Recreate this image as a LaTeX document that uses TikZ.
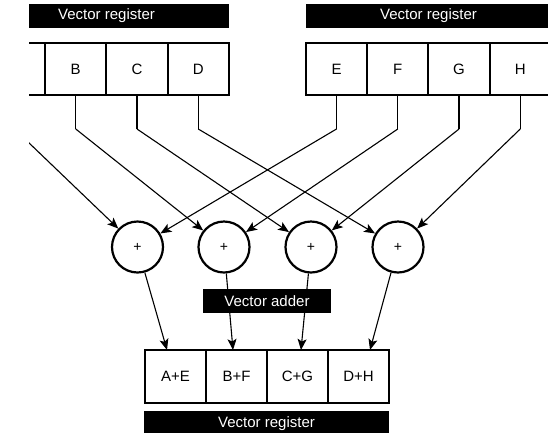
\documentclass[tikz,border=0pt]{standalone}
\usepackage{fontspec}
\setmainfont{Liberation Sans}
\usetikzlibrary{arrows.meta}
\begin{document}
\begin{tikzpicture}[x=1pt,y=-1pt,
  regbox/.style={draw, line width=2.1pt, minimum width=61.25pt, minimum height=52pt, inner sep=0pt, font=\fontsize{15}{15}\selectfont},
  outbox/.style={draw, line width=2.1pt, minimum width=61pt, minimum height=53pt, inner sep=0pt, font=\fontsize{15}{15}\selectfont},
  bar/.style={fill=black, text=white, minimum height=24pt, inner sep=0pt, font=\fontsize{15}{15}\selectfont},
  adderc/.style={draw, circle, line width=2.2pt, minimum size=51pt, inner sep=0pt, font=\fontsize{14}{14}\selectfont},
  conn/.style={line width=1.1pt},
  arr/.style={line width=1.1pt, -{Stealth[length=11pt,width=9pt,inset=2.5pt]}}
]
\useasboundingbox (0,0) rectangle (548,432);
\begin{scope}
\clip (29,0) rectangle (548,432);
% top bars
\node[bar, minimum width=245pt] (barL) at (106.5,16) {Vector register};
\node[bar, minimum width=245pt] (barR) at (428.5,16) {Vector register};
% input registers
\node[regbox] (A) at (14.5,69) {A};
\node[regbox] (B) at (75.75,69) {B};
\node[regbox] (C) at (137,69) {C};
\node[regbox] (D) at (198.25,69) {D};
\node[regbox] (E) at (336.5,69) {E};
\node[regbox] (F) at (397.75,69) {F};
\node[regbox] (G) at (459,69) {G};
\node[regbox] (H) at (520.25,69) {H};
% adders
\node[adderc] (p1) at (137.5,247) {+};
\node[adderc] (p2) at (224,247) {+};
\node[adderc] (p3) at (311,247) {+};
\node[adderc] (p4) at (398,247) {+};
% bends
\coordinate (bA) at (14.5,129);
\coordinate (bB) at (75.75,129);
\coordinate (bC) at (137,129);
\coordinate (bD) at (198.25,129);
\coordinate (bE) at (336.5,129);
\coordinate (bF) at (397.75,129);
\coordinate (bG) at (459,129);
\coordinate (bH) at (520.25,129);
\draw[conn] (A.south) -- (bA); \draw[arr] (bA) -- (p1);
\draw[conn] (B.south) -- (bB); \draw[arr] (bB) -- (p2);
\draw[conn] (C.south) -- (bC); \draw[arr] (bC) -- (p3);
\draw[conn] (D.south) -- (bD); \draw[arr] (bD) -- (p4);
\draw[conn] (E.south) -- (bE); \draw[arr] (bE) -- (p1);
\draw[conn] (F.south) -- (bF); \draw[arr] (bF) -- (p2);
\draw[conn] (G.south) -- (bG); \draw[arr] (bG) -- (p3);
\draw[conn] (H.south) -- (bH); \draw[arr] (bH) -- (p4);
% output register
\node[outbox] (O1) at (175.5,376.5) {A+E};
\node[outbox] (O2) at (236.5,376.5) {B+F};
\node[outbox] (O3) at (297.5,376.5) {C+G};
\node[outbox] (O4) at (358.5,376.5) {D+H};
\coordinate (t1) at (167,350);
\coordinate (t2) at (233,350);
\coordinate (t3) at (301,350);
\coordinate (t4) at (370,350);
\draw[arr] (p1) -- (t1);
\draw[arr] (p2) -- (t2);
\draw[arr] (p3) -- (t3);
\draw[arr] (p4) -- (t4);
% labels
\node[bar, minimum width=128pt] (adder) at (267,301) {Vector adder};
\node[bar, minimum width=245pt, minimum height=26pt] (barB) at (266.5,424) {Vector register};
\end{scope}
\end{tikzpicture}
\end{document}
